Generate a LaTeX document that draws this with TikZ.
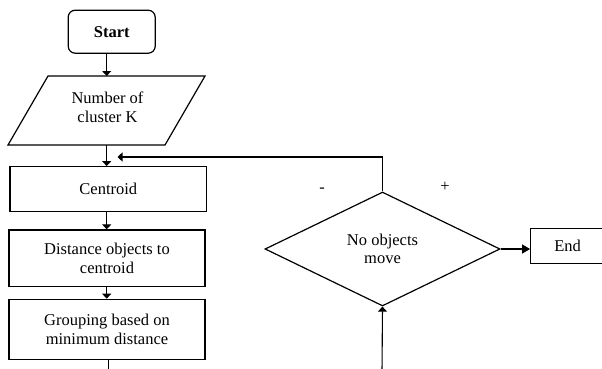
\documentclass[tikz,border=0pt]{standalone}
\usepackage{fontspec}
\setmainfont{Liberation Serif}
\usetikzlibrary{shapes.geometric,arrows.meta,calc}
\begin{document}
\begin{tikzpicture}[x=1pt,y=-1pt,
  every node/.style={font=\fontsize{16.5}{18.7}\selectfont, align=center, inner sep=0pt},
  box/.style={draw, line width=1.2pt, minimum width=196pt},
  arr/.style={line width=1.1pt, -{Triangle[length=5pt,width=9pt]}},
  ln/.style={line width=1.1pt}]
\useasboundingbox (0,0) rectangle (602,369);
% columns
\coordinate (c1) at (106.7,0);
% Start
\node[box, rounded corners=7pt, minimum width=87pt, minimum height=43pt] (start) at (111.7,31.7) {\bfseries Start};
% parallelogram
\coordinate (ptl) at (48,76);
\coordinate (ptr) at (205,76);
\coordinate (pbr) at (165,145);
\coordinate (pbl) at (8,145);
\draw[line width=1.2pt] (ptl) -- (ptr) -- (pbr) -- (pbl) -- cycle;
\node (num) at (107.5,107) {Number of\\cluster K};
% boxes
\node[box, minimum width=196.7pt, minimum height=45pt] (cen) at (108.3,189.2) {Centroid};
\node[box, minimum height=56.7pt] (dist) at (107,258.3) {Distance objects to\\centroid};
\node[box, minimum height=60pt] (grp) at (107,329.3) {Grouping based on\\minimum distance};
% diamond
\node[draw, diamond, line width=1.2pt, minimum width=235pt, minimum height=114pt] (dec) at (382.5,249) {No objects\\move};
% end
\node[box, minimum width=74pt, minimum height=35pt] (end) at (567.7,245.8) {End};
% labels
\node (minus) at (322,190) {-};
\node (plus) at (445,187) {+};
% connectors
\draw[arr] (start.south -| c1) -- (ptl -| c1);
\draw[arr] (pbl -| c1) -- (cen.north -| c1);
\draw[arr] (cen.south -| c1) -- (dist.north -| c1);
\draw[arr] (dist.south -| c1) -- (grp.north -| c1);
\coordinate (gout) at (108.3,372);
\draw[ln] (grp.south -| gout) -- (gout);
\coordinate (din) at (382,372);
\draw[arr] (din) -- (dec.south);
\draw[arr, -{Triangle[length=8pt,width=9pt]}] (dec.east) -- (dec.east -| end.west);
\coordinate (fb) at (117.5,157);
\draw[arr] (dec.north) |- (fb);
\end{tikzpicture}
\end{document}
